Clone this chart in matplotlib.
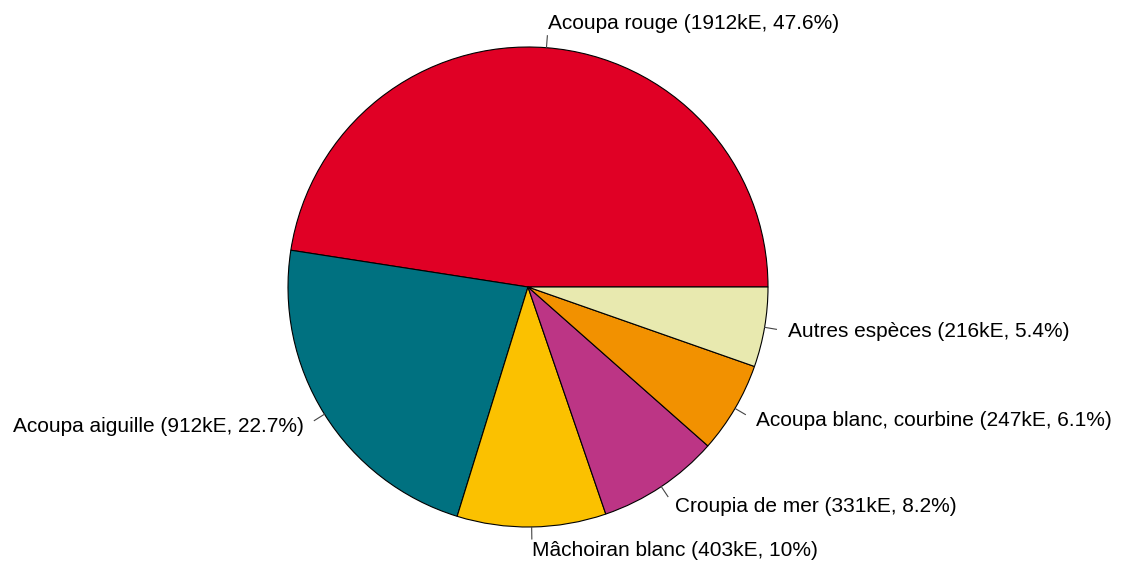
import numpy as np
import matplotlib
matplotlib.use("Agg")
import matplotlib.pyplot as plt

plt.rcParams['font.family'] = ['Liberation Sans', 'DejaVu Sans']

species = ["Acoupa rouge", "Acoupa aiguille", "Mâchoiran blanc", "Croupia de mer",
           "Acoupa blanc, courbine", "Autres espèces"]
values_ke = [1912, 912, 403, 331, 247, 216]
pct_labels = ["47.6%", "22.7%", "10%", "8.2%", "6.1%", "5.4%"]
colors = ["#E00025", "#007180", "#FBC100", "#BC3585", "#F29100", "#E8E9AF"]

W, H = 1123, 565
cx, cy, r = 528, H - 287, 240

fig = plt.figure(figsize=(W / 100, H / 100), dpi=100)
ax = fig.add_axes([0, 0, 1, 1])

wedges, _ = ax.pie(values_ke, colors=colors, startangle=0, counterclock=True,
                   radius=r, center=(cx, cy), frame=True,
                   wedgeprops=dict(edgecolor="black", linewidth=0.8))
ax.set_xlim(0, W)
ax.set_ylim(0, H)
ax.set_aspect("equal")
ax.axis("off")

# label ticks and text like R's pie()
for w, name, v, p in zip(wedges, species, values_ke, pct_labels):
    a = np.deg2rad((w.theta1 + w.theta2) / 2)
    c, s = np.cos(a), np.sin(a)
    ax.plot([cx + r * c, cx + 1.05 * r * c], [cy + r * s, cy + 1.05 * r * s],
            color="#444444", lw=0.8)
    ax.text(cx + 1.1 * r * c, cy + 1.1 * r * s, f"{name} ({v}kE, {p})",
            ha="left" if c > 0 else "right", va="center", fontsize=15)

fig.savefig("out.png", dpi=100)
